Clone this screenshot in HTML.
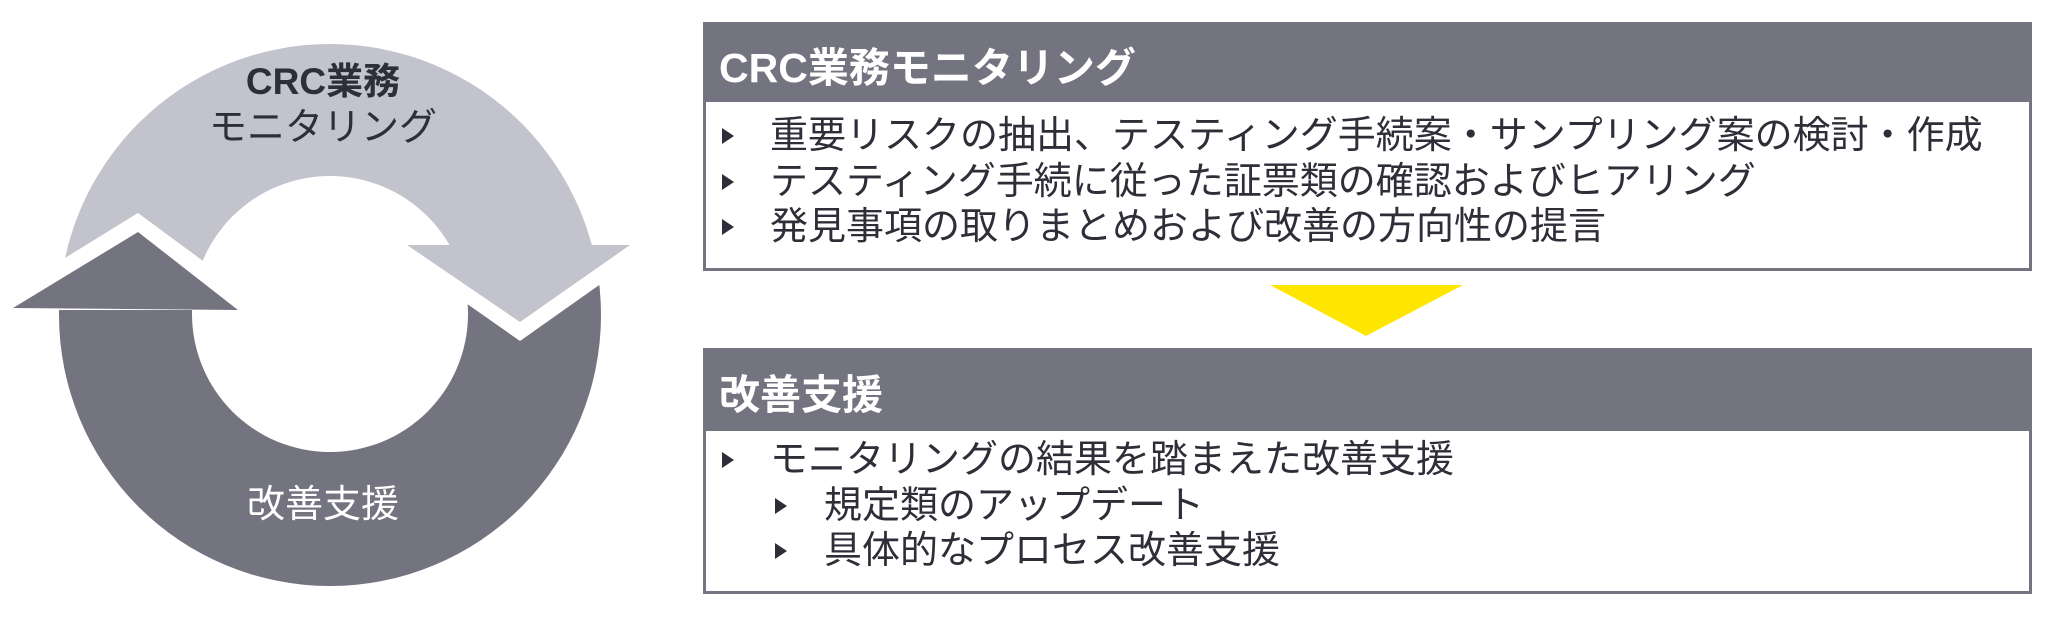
<!DOCTYPE html>
<html><head><meta charset="utf-8"><style>
body{margin:0;width:2048px;height:619px;background:#fff;position:relative;overflow:hidden;font-family:"Liberation Sans","Noto Sans CJK JP",sans-serif;color:#2e2e38}
.box{position:absolute;left:703px;width:1329px;border:3px solid #747480;box-sizing:border-box;background:#fff}
.hd{background:#747480;color:#fff;font-weight:bold;font-size:41px;padding-left:13px;box-sizing:border-box;display:flex;align-items:center}
.ln{position:absolute;font-size:38px;white-space:nowrap;line-height:42px}
.b{position:absolute;width:0;height:0;border-top:8px solid transparent;border-bottom:8px solid transparent;border-left:12px solid #2e2e38}
</style></head><body>
<svg width="700" height="619" style="position:absolute;left:0;top:0">
<defs>
<mask id="ring"><rect width="700" height="619" fill="#000"/><circle cx="330" cy="315" r="271" fill="#fff"/><circle cx="330" cy="314" r="138" fill="#000"/></mask>
<clipPath id="dk"><polygon points="0,619 0,310 330,310 420,271 520,341 660,242 700,242 700,619"/></clipPath>
<clipPath id="lt"><polygon points="0,0 0,298 138,213 260,303 330,246 700,246 700,0"/></clipPath>
</defs>
<g clip-path="url(#lt)"><rect width="700" height="619" fill="#c2c3cc" mask="url(#ring)"/></g>
<polygon points="407,245 630,245 520,322" fill="#c2c3cc"/>
<g clip-path="url(#dk)"><rect width="700" height="619" fill="#747480" mask="url(#ring)"/></g>
<polygon points="13,308 138,232 238,310" fill="#747480"/>
<text x="323" y="94" text-anchor="middle" font-size="37" font-weight="bold" fill="#2e2e38" font-family="Liberation Sans,Noto Sans CJK JP,sans-serif">CRC業務</text>
<text x="323" y="140" text-anchor="middle" font-size="38" fill="#2e2e38" font-family="Liberation Sans,Noto Sans CJK JP,sans-serif">モニタリング</text>
<text x="323" y="517" text-anchor="middle" font-size="38" fill="#fff" font-family="Liberation Sans,Noto Sans CJK JP,sans-serif">改善支援</text>
</svg>
<div class="box" style="top:22px;height:249px"><div class="hd" style="height:77px">CRC業務モニタリング</div></div>
<div class="box" style="top:348px;height:246px"><div class="hd" style="height:80px">改善支援</div></div>
<svg width="2048" height="619" style="position:absolute;left:0;top:0;pointer-events:none"><polygon points="1270,285 1463,285 1366,336" fill="#ffe600"/></svg>
<div class="b" style="left:722px;top:128px"></div><div class="ln" style="left:770px;top:115px">重要リスクの抽出、テスティング手続案・サンプリング案の検討・作成</div>
<div class="b" style="left:722px;top:174px"></div><div class="ln" style="left:770px;top:161px">テスティング手続に従った証票類の確認およびヒアリング</div>
<div class="b" style="left:722px;top:219px"></div><div class="ln" style="left:770px;top:206px">発見事項の取りまとめおよび改善の方向性の提言</div>
<div class="b" style="left:722px;top:452px"></div><div class="ln" style="left:770px;top:439px">モニタリングの結果を踏まえた改善支援</div>
<div class="b" style="left:775px;top:498px"></div><div class="ln" style="left:824px;top:485px">規定類のアップデート</div>
<div class="b" style="left:775px;top:543px"></div><div class="ln" style="left:824px;top:530px">具体的なプロセス改善支援</div>
</body></html>
